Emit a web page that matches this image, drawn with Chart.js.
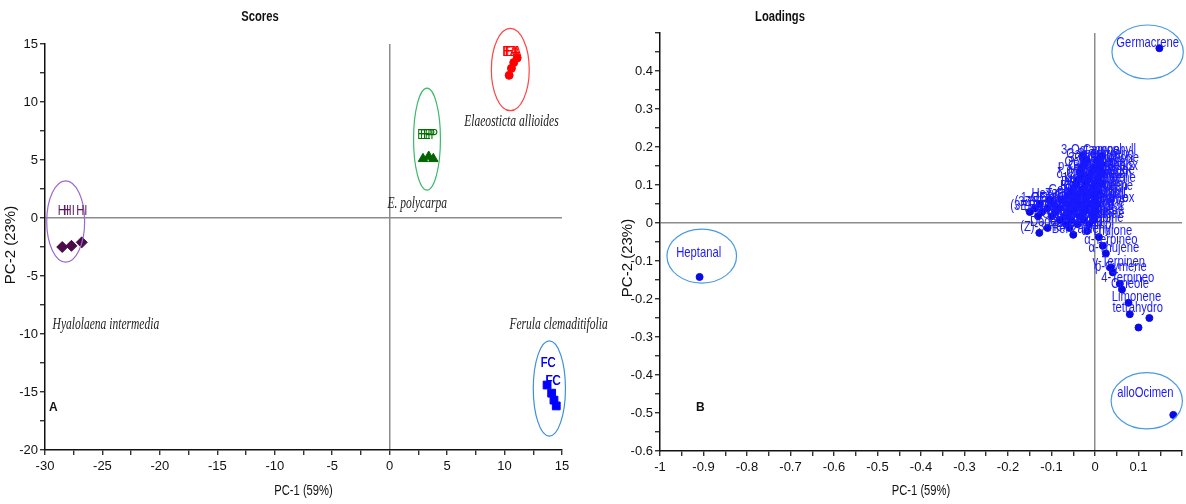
<!DOCTYPE html>
<html>
<head>
<meta charset="utf-8">
<script src="https://cdn.jsdelivr.net/npm/chart.js@4.4.1/dist/chart.umd.min.js"></script>
<style>
  html, body { margin: 0; padding: 0; background: #fff; }
  #wrap { position: relative; width: 1186px; height: 504px; overflow: hidden; }
  #scoresChart { position: absolute; left: 0; top: 0; }
  #loadingsChart { position: absolute; left: 600px; top: 0; }
</style>
</head>
<body>
<div id="wrap">
  <canvas id="scoresChart" width="660" height="504"></canvas>
  <canvas id="loadingsChart" width="586" height="504"></canvas>
</div>
<script>
// ---------- Scores: PC-1 / PC-2 ----------
const hiX = [-28.5, -27.7, -26.8];
const hiY = [-2.5, -2.4, -2.1];
const eaX = [10.4, 10.6, 10.8, 11.1];
const eaY = [12.3, 12.9, 13.4, 13.8];
const epX = [2.9, 3.4, 3.8];
const epY = [5.1, 5.3, 5.1];
const fcX = [13.7, 14.1, 14.3, 14.5];
const fcY = [-14.4, -15.1, -15.7, -16.2];

// sample labels (as placed on the plot)
const hiLabelX = [-28.4, -27.9, -26.8];
const hiLabelY = [0.6, 0.6, 0.6];
const eaLabelX = [10.45, 10.55, 10.7, 10.8];
const eaLabelY = [14.3, 14.3, 14.3, 14.3];
const epLabelX = [3.05, 3.3, 3.55];
const epLabelY = [7.2, 7.2, 7.2];
const fcLabelX = [13.8, 13.8, 14.2, 14.25];
const fcLabelY = [-12.5, -12.5, -14.05, -14.05];

// group names and their ellipses [cx, cy, rx, ry]
const groupNames = ['Hyalolaena intermedia', 'E. polycarpa', 'Elaeosticta allioides', 'Ferula clemaditifolia'];
const groupNameX = [-24.7, 2.4, 10.6, 14.7];
const groupNameY = [-9.2, 1.2, 8.3, -9.2];
const groupEllipses = [
  [-28.2, -0.3, 1.65, 3.5],
  [3.25, 6.8, 1.17, 4.4],
  [10.5, 12.8, 1.65, 3.55],
  [13.9, -14.7, 1.4, 4.1]
];

// ---------- Loadings: PC-1 / PC-2 ----------
const loadNames = [
  '3-Octanone', 'Caryophyll',
  'Caryophyal', 'Spathuleno',
  '3-Octanol', 'β-Bourbone',
  'Octyl acet', 'Sabinene', 'β-Selinene',
  'p-Cymen-8-', 'Bornyl ace', 'Humulenox',
  'Myrcene', 'α-Humulene', 'Camphene',
  'δ-Cadinene', 'β-Pinene', 'Terpinolen',
  'Linalool', 'α-Copaene', 'Carvacrol', 'Valencene',
  'Decanal', 'Octanol-1', 'Elemol',
  'Borneol', 'Cubebene', 'γ-Muurolen', 'β-Elemene',
  'Germacr B', 'Bicyclog', 'Ledene', 'Globulol',
  'Hexyl acet', 'T-Cadinol', 'α-Cadinol', 'β-Eudesmol', 'Nerolidol',
  '1-Octen-3-', '(E)-β-Farn', 'α-Phelland', 'β-Phelland', 'δ-3-Carene', 'Caryoph ox',
  '(3Z)-Hexen', '(E)-2-Hept', 'Nonanal', 'Cuminal', 'Perillald', 'Carvone',
  '(3E)-Octen', '(E)-2-Octe', 'Camphor', 'Thymol', 'Geraniol', 'Viridiflor',
  'Nerol', 'Hexanal', 'Myrtenal', 'Fenchone', 'α-Pinene',
  'Undecane', 'Isoborneol', 'Piperitone', 'Cryptone',
  'Verbenone', 'trans-Pino', 'cis-Sabine',
  '(Z)-3-Hexe', 'Dodecane', '2-Pentylfu', 'Benzaldehy', 'Sabinol',
  'α-Thujone', 'α-Terpineo', 'α-Thujene', 'γ-Terpinen', 'p-Cymene',
  '4-Terpineo', 'Cineole', 'Limonene', 'tetrahydro', '', ''
];
const loadX = [
  -0.029, 0.015,
  -0.019, 0.006,
  -0.024, 0.015,
  -0.031, -0.003, 0.010,
  -0.035, -0.008, 0.015,
  -0.031, -0.013, 0.010,
  -0.040, -0.017, 0.006,
  -0.045, -0.022, 0.001, 0.015,
  -0.049, -0.026, -0.003,
  -0.054, -0.031, -0.008, 0.006,
  -0.063, -0.040, -0.017, 0.001,
  -0.104, -0.077, -0.049, -0.022, 0.001,
  -0.127, -0.095, -0.063, -0.035, -0.008, 0.006,
  -0.138, -0.109, -0.081, -0.049, -0.022, 0.001,
  -0.150, -0.122, -0.090, -0.058, -0.026, 0.001,
  -0.131, -0.099, -0.067, -0.035, -0.003,
  -0.081, -0.054, -0.026, -0.003,
  -0.067, -0.040, -0.013,
  -0.128, -0.109, -0.059, -0.050, -0.018,
  0.009, 0.018, 0.025, 0.036, 0.041,
  0.057, 0.062, 0.077, 0.080, 0.125, 0.100
];
const loadY = [
  0.176, 0.176,
  0.166, 0.166,
  0.155, 0.155,
  0.145, 0.145, 0.145,
  0.134, 0.134, 0.134,
  0.124, 0.124, 0.124,
  0.113, 0.113, 0.113,
  0.103, 0.103, 0.103, 0.103,
  0.092, 0.092, 0.092,
  0.082, 0.082, 0.082, 0.082,
  0.071, 0.071, 0.071, 0.071,
  0.061, 0.061, 0.061, 0.061, 0.061,
  0.050, 0.050, 0.050, 0.050, 0.050, 0.050,
  0.039, 0.039, 0.039, 0.039, 0.039, 0.039,
  0.029, 0.029, 0.029, 0.029, 0.029, 0.029,
  0.018, 0.018, 0.018, 0.018, 0.018,
  0.008, 0.008, 0.008, 0.008,
  -0.003, -0.003, -0.003,
  -0.026, -0.013, -0.013, -0.031, -0.021,
  -0.037, -0.060, -0.080, -0.117, -0.130,
  -0.160, -0.175, -0.210, -0.240, -0.250, -0.275
];

// circled variables, with their own label positions
const outNames = ['Heptanal', 'Germacrene', 'alloOcimen'];
const outX = [-0.909, 0.148, 0.180];
const outY = [-0.142, 0.460, -0.505];
const outLabelX = [-0.911, 0.121, 0.116];
const outLabelY = [-0.079, 0.474, -0.447];
const outEllipses = [
  [-0.904, -0.087, 0.080, 0.071],
  [0.121, 0.450, 0.082, 0.071],
  [0.119, -0.468, 0.082, 0.074]
];

const SANS = "'Liberation Sans', Arial, sans-serif";

function pts(xs, ys) {
  return xs.map((x, i) => ({ x: x, y: ys[i] }));
}

// condensed text: the original uses a narrow face, squeeze a normal one
function narrowText(ctx, text, x, y, font, squeeze) {
  ctx.save();
  ctx.translate(x, y);
  ctx.scale(squeeze, 1);
  ctx.font = font;
  ctx.fillText(text, 0, 0);
  ctx.restore();
}

// draws titles, ellipses, point labels, notes on top of the chart
function makeDecor(cfg) {
  return {
    id: 'decor',
    afterDatasetsDraw(chart) {
      const ctx = chart.ctx;
      const sx = chart.scales.x, sy = chart.scales.y;
      const area = chart.chartArea;
      ctx.save();

      // ellipses
      (cfg.ellipses || []).forEach(e => {
        const cx = sx.getPixelForValue(e[0]), cy = sy.getPixelForValue(e[1]);
        const rx = Math.abs(sx.getPixelForValue(e[0] + e[2]) - cx);
        const ry = Math.abs(sy.getPixelForValue(e[1] + e[3]) - cy);
        ctx.beginPath();
        ctx.ellipse(cx, cy, rx, ry, 0, 0, Math.PI * 2);
        ctx.strokeStyle = e[4];
        ctx.lineWidth = 1.2;
        ctx.stroke();
      });

      // point labels
      ctx.textAlign = 'center';
      ctx.textBaseline = 'middle';
      (cfg.labels || []).forEach(l => {
        if (!l.text) return;
        ctx.fillStyle = l.color;
        narrowText(ctx, l.text, sx.getPixelForValue(l.x) + (l.dx || 0), sy.getPixelForValue(l.y) + (l.dy || 0),
          '15px ' + SANS, 0.75);
      });

      // italic group names
      ctx.fillStyle = '#222';
      (cfg.notes || []).forEach(n => {
        narrowText(ctx, n.text, sx.getPixelForValue(n.x), sy.getPixelForValue(n.y),
          'italic 16px "Liberation Serif", "DejaVu Serif", serif', 0.72);
      });

      // panel title, axis titles, letter
      ctx.fillStyle = '#111';
      narrowText(ctx, cfg.title, cfg.titleX, 17, 'bold 14px ' + SANS, 0.8);
      narrowText(ctx, 'PC-1 (59%)', (area.left + area.right) / 2, 491, '14px ' + SANS, 0.8);
      ctx.save();
      ctx.translate(cfg.yTitleX, cfg.yTitleY);
      ctx.rotate(-Math.PI / 2);
      ctx.font = '15px ' + SANS;
      ctx.fillText('PC-2 (23%)', 0, 0);
      ctx.restore();
      ctx.textAlign = 'left';
      ctx.font = 'bold 12px ' + SANS;
      ctx.fillText(cfg.letter, cfg.letterX, 408);

      ctx.restore();
    }
  };
}

function axis(min, max, step, major, sizeKey, size, hideVals) {
  return {
    type: 'linear',
    min: min,
    max: max,
    border: { color: '#111', width: 1.5 },
    grid: {
      color: c => (c.tick && Math.abs(c.tick.value) < 1e-9) ? '#8c8c8c' : 'rgba(0,0,0,0)',
      lineWidth: 1.5,
      tickColor: '#111',
      tickWidth: 1.2,
      tickLength: 5
    },
    ticks: {
      stepSize: step,
      autoSkip: false,
      maxRotation: 0,
      color: '#111',
      padding: sizeKey === 'height' ? 4 : 2,
      font: { family: SANS, size: 13 },
      callback: v => {
        const k = Math.round(v / step);
        if (k % major !== 0) return '';
        const r = Math.round(v * 100) / 100;
        if (hideVals && hideVals.indexOf(r) >= 0) return '';
        return String(r);
      }
    },
    afterFit: s => { s[sizeKey] = size; }
  };
}

const scoresLabels = []
  .concat(hiLabelX.map((x, i) => ({ text: 'HI', x: x, y: hiLabelY[i], color: '#5e1a5e' })))
  .concat(eaLabelX.map((x, i) => ({ text: 'EA', x: x, y: eaLabelY[i], color: '#ff0000' })))
  .concat(epLabelX.map((x, i) => ({ text: 'EP', x: x, y: epLabelY[i], color: '#007000' })))
  .concat(fcLabelX.map((x, i) => ({ text: 'FC', x: x, y: fcLabelY[i], color: '#0000ff' })));

const ellipseColors = ['#9a6ad0', '#3cba6a', '#ff4444', '#3d8fdc'];

new Chart(document.getElementById('scoresChart'), {
  type: 'scatter',
  data: {
    datasets: [
      { data: pts(hiX, hiY), pointStyle: 'rectRot', pointRadius: 5.5, backgroundColor: '#4b0a48', borderColor: '#4b0a48' },
      { data: pts(eaX, eaY), pointStyle: 'circle', pointRadius: 4, backgroundColor: '#ff0000', borderColor: '#ff0000' },
      { data: pts(epX, epY), pointStyle: 'triangle', pointRadius: 5.5, backgroundColor: '#006400', borderColor: '#006400' },
      { data: pts(fcX, fcY), pointStyle: 'rect', pointRadius: 5.5, backgroundColor: '#0000ff', borderColor: '#0000ff' }
    ]
  },
  options: {
    responsive: false,
    animation: false,
    layout: { autoPadding: false, padding: { top: 44, right: 98, left: 0, bottom: 0 } },
    plugins: { legend: { display: false }, tooltip: { enabled: false } },
    scales: {
      x: axis(-30, 15, 2.5, 2, 'height', 54),
      y: axis(-20, 15, 2.5, 2, 'width', 45)
    }
  },
  plugins: [makeDecor({
    title: 'Scores', titleX: 260,
    yTitleX: 11, yTitleY: 245,
    letter: 'A', letterX: 49,
    ellipses: groupEllipses.map((e, i) => e.concat([ellipseColors[i]])),
    labels: scoresLabels,
    notes: groupNames.map((t, i) => ({ text: t, x: groupNameX[i], y: groupNameY[i] }))
  })]
});

const loadingsLabels = loadNames.map((t, i) => ({ text: t, x: loadX[i], y: loadY[i], dx: 8, dy: -6, color: '#1a1aff' }))
  .concat(outNames.map((t, i) => ({ text: t, x: outLabelX[i], y: outLabelY[i], color: '#1a1aff' })));

new Chart(document.getElementById('loadingsChart'), {
  type: 'scatter',
  data: {
    datasets: [
      { data: pts(loadX.concat(outX), loadY.concat(outY)), pointStyle: 'circle', pointRadius: 3.5, backgroundColor: '#0a0ae6', borderColor: '#0a0ae6' }
    ]
  },
  options: {
    responsive: false,
    animation: false,
    layout: { autoPadding: false, padding: { top: 33, right: 1, left: 0, bottom: 0 } },
    plugins: { legend: { display: false }, tooltip: { enabled: false } },
    scales: {
      x: axis(-1, 0.2, 0.05, 2, 'height', 53, [0.2]),
      y: axis(-0.6, 0.5, 0.05, 2, 'width', 60, [0.5])
    }
  },
  plugins: [makeDecor({
    title: 'Loadings', titleX: 180,
    yTitleX: 28, yTitleY: 258,
    letter: 'B', letterX: 96,
    ellipses: outEllipses.map(e => e.concat(['#4a9ae0'])),
    labels: loadingsLabels,
    notes: []
  })]
});
</script>
</body>
</html>
